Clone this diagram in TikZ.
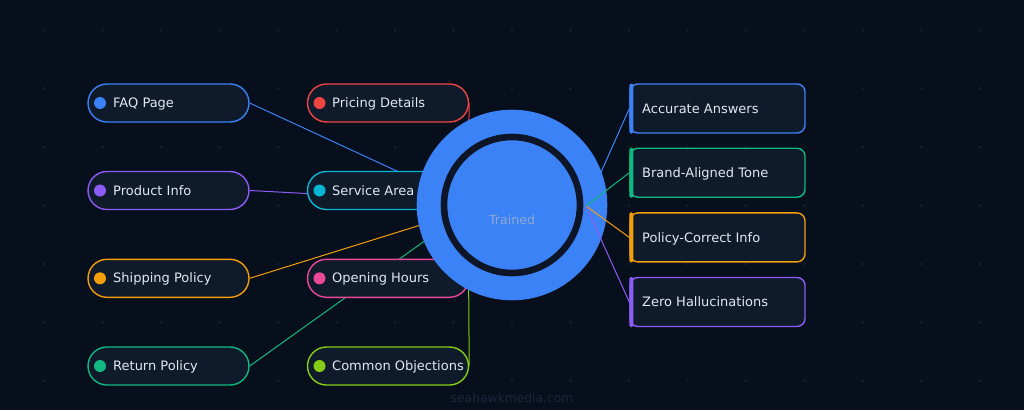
\documentclass[tikz,border=0pt]{standalone}
\usepackage{fontspec}
\setmainfont{DejaVu Sans}
\definecolor{bg}{HTML}{070E1C}
\definecolor{dotc}{HTML}{151E2F}
\definecolor{pillfill}{HTML}{0F1A2B}
\definecolor{txt}{HTML}{E2E8F0}
\definecolor{cblue}{HTML}{3B82F6}
\definecolor{cpurple}{HTML}{8B5CF6}
\definecolor{camber}{HTML}{F59E0B}
\definecolor{cgreen}{HTML}{10B981}
\definecolor{cred}{HTML}{EF4444}
\definecolor{ccyan}{HTML}{06B6D4}
\definecolor{cpink}{HTML}{EC4899}
\definecolor{clime}{HTML}{84CC16}
\definecolor{ringc}{HTML}{0C1628}
\definecolor{hubtxt}{HTML}{8FA7D0}
\definecolor{wmc}{HTML}{1C2740}
\pgfdeclarelayer{backlayer}
\pgfdeclarelayer{linklayer}
\pgfdeclarelayer{frontlayer}
\pgfsetlayers{backlayer,linklayer,main,frontlayer}
\begin{document}
\begin{tikzpicture}[x=1pt,y=-1pt,
  pill/.style={draw=#1, line width=1.4pt, fill=pillfill, rounded corners=19pt, minimum width=161pt, minimum height=38pt, inner sep=0pt},
  pilldot/.style={circle, fill=#1, minimum size=12pt, inner sep=0pt},
  lbl/.style={anchor=base west, text=txt, font=\fontsize{13}{15}\selectfont, inner sep=0pt},
  link/.style={draw=#1, line width=1pt},
  card/.style={draw=#1, line width=1.4pt, fill=pillfill, rounded corners=8pt, minimum width=175pt, minimum height=49pt, inner sep=0pt},
  accent/.style={fill=#1, rounded corners=1.5pt}
]
\begin{pgfonlayer}{backlayer}
\useasboundingbox (0,0) rectangle (1024,410);
\fill[bg] (0,0) rectangle (1024,410);
\foreach \i in {0,...,16} \foreach \j in {0,...,6}
  \fill[dotc] (44+58.5*\i, 30+58.5*\j) circle (1.6pt);
\end{pgfonlayer}

% hidden ends of left connectors
\coordinate (eFAQ) at (440,191);
\coordinate (ePROD) at (440,200.5);
\coordinate (eSHIP) at (440,219);
\coordinate (eRET) at (440,230);
\coordinate (ePRICE) at (468.5,150);
\coordinate (eOBJ) at (468.5,262);
\coordinate (hubR) at (586,206);

% pills
\node[pill=cblue]   (faq)   at (168.5,103)   {};
\node[pill=cpurple] (prod)  at (168.5,190.5) {};
\node[pill=camber]  (ship)  at (168.5,278.3) {};
\node[pill=cgreen]  (ret)   at (168.5,366)   {};
\node[pill=cred]    (price) at (388,103)     {};
\node[pill=ccyan]   (serv)  at (388,190.5)   {};
\node[pill=cpink]   (open)  at (388,278.3)   {};
\node[pill=clime]   (obj)   at (388,366)     {};

\foreach \n/\c/\y/\t in {faq/cblue/103/FAQ Page, prod/cpurple/190.5/Product Info, ship/camber/278.3/Shipping Policy, ret/cgreen/366/Return Policy}{
  \node[pilldot=\c] (\n dot) at (100,\y) {};
  \node[lbl] (\n txt) at (113,\y+4.5) {\t};
}
\foreach \n/\c/\y/\t in {price/cred/103/Pricing Details, serv/ccyan/190.5/Service Area, open/cpink/278.3/Opening Hours, obj/clime/366/Common Objections}{
  \node[pilldot=\c] (\n dot) at (319.5,\y) {};
  \node[lbl] (\n txt) at (332,\y+4.5) {\t};
}

% left connectors (under pills)
\begin{pgfonlayer}{linklayer}
\draw[link=cblue] (faq.east) -- (eFAQ);
\draw[link=cpurple] (prod.east) -- (ePROD);
\draw[link=camber] (ship.east) -- (eSHIP);
\draw[link=cgreen] (ret.east) -- (eRET);
\draw[link=cred] (price.east) -- (ePRICE);
\draw[link=clime] (obj.east) -- (eOBJ);
\end{pgfonlayer}

\begin{pgfonlayer}{frontlayer}
% hub
\node[circle, fill=cblue, minimum size=190.6pt, inner sep=0pt] (hub) at (512,205) {};
\draw[ringc, line width=6.6pt] (hub.center) circle (68pt);
\node[text=hubtxt, font=\fontsize{12.6}{14}\selectfont, inner sep=0pt] (hubtext) at (512,219.5) {Trained};

% cards
\node[card=cblue]   (acc)   at (717.5,108.5) {};
\node[card=cgreen]  (brand) at (717.5,172.7) {};
\node[card=camber]  (pol)   at (717.5,237.4) {};
\node[card=cpurple] (zero)  at (717.5,302)   {};

\draw[link=cblue]   (hubR) -- (acc.west);
\draw[link=cgreen]  (hubR) -- (brand.west);
\draw[link=camber]  (hubR) -- (pol.west);
\draw[link=cpurple] (hubR) -- (zero.west);

\foreach \n/\c/\y/\t in {acc/cblue/108.5/Accurate Answers, brand/cgreen/172.7/Brand-Aligned Tone, pol/camber/237.4/Policy-Correct Info, zero/cpurple/302/Zero Hallucinations}{
  \fill[accent=\c] ([yshift=-0.2pt]\n.north west) rectangle ([xshift=4pt,yshift=0.2pt]\n.south west);
  \node[lbl] (\n txt) at (642,\y+4.8) {\t};
}

\node[text=wmc, font=\fontsize{12.3}{14}\selectfont, inner sep=0pt] (wm) at (512,398) {seahawkmedia.com};
\end{pgfonlayer}
\end{tikzpicture}
\end{document}
